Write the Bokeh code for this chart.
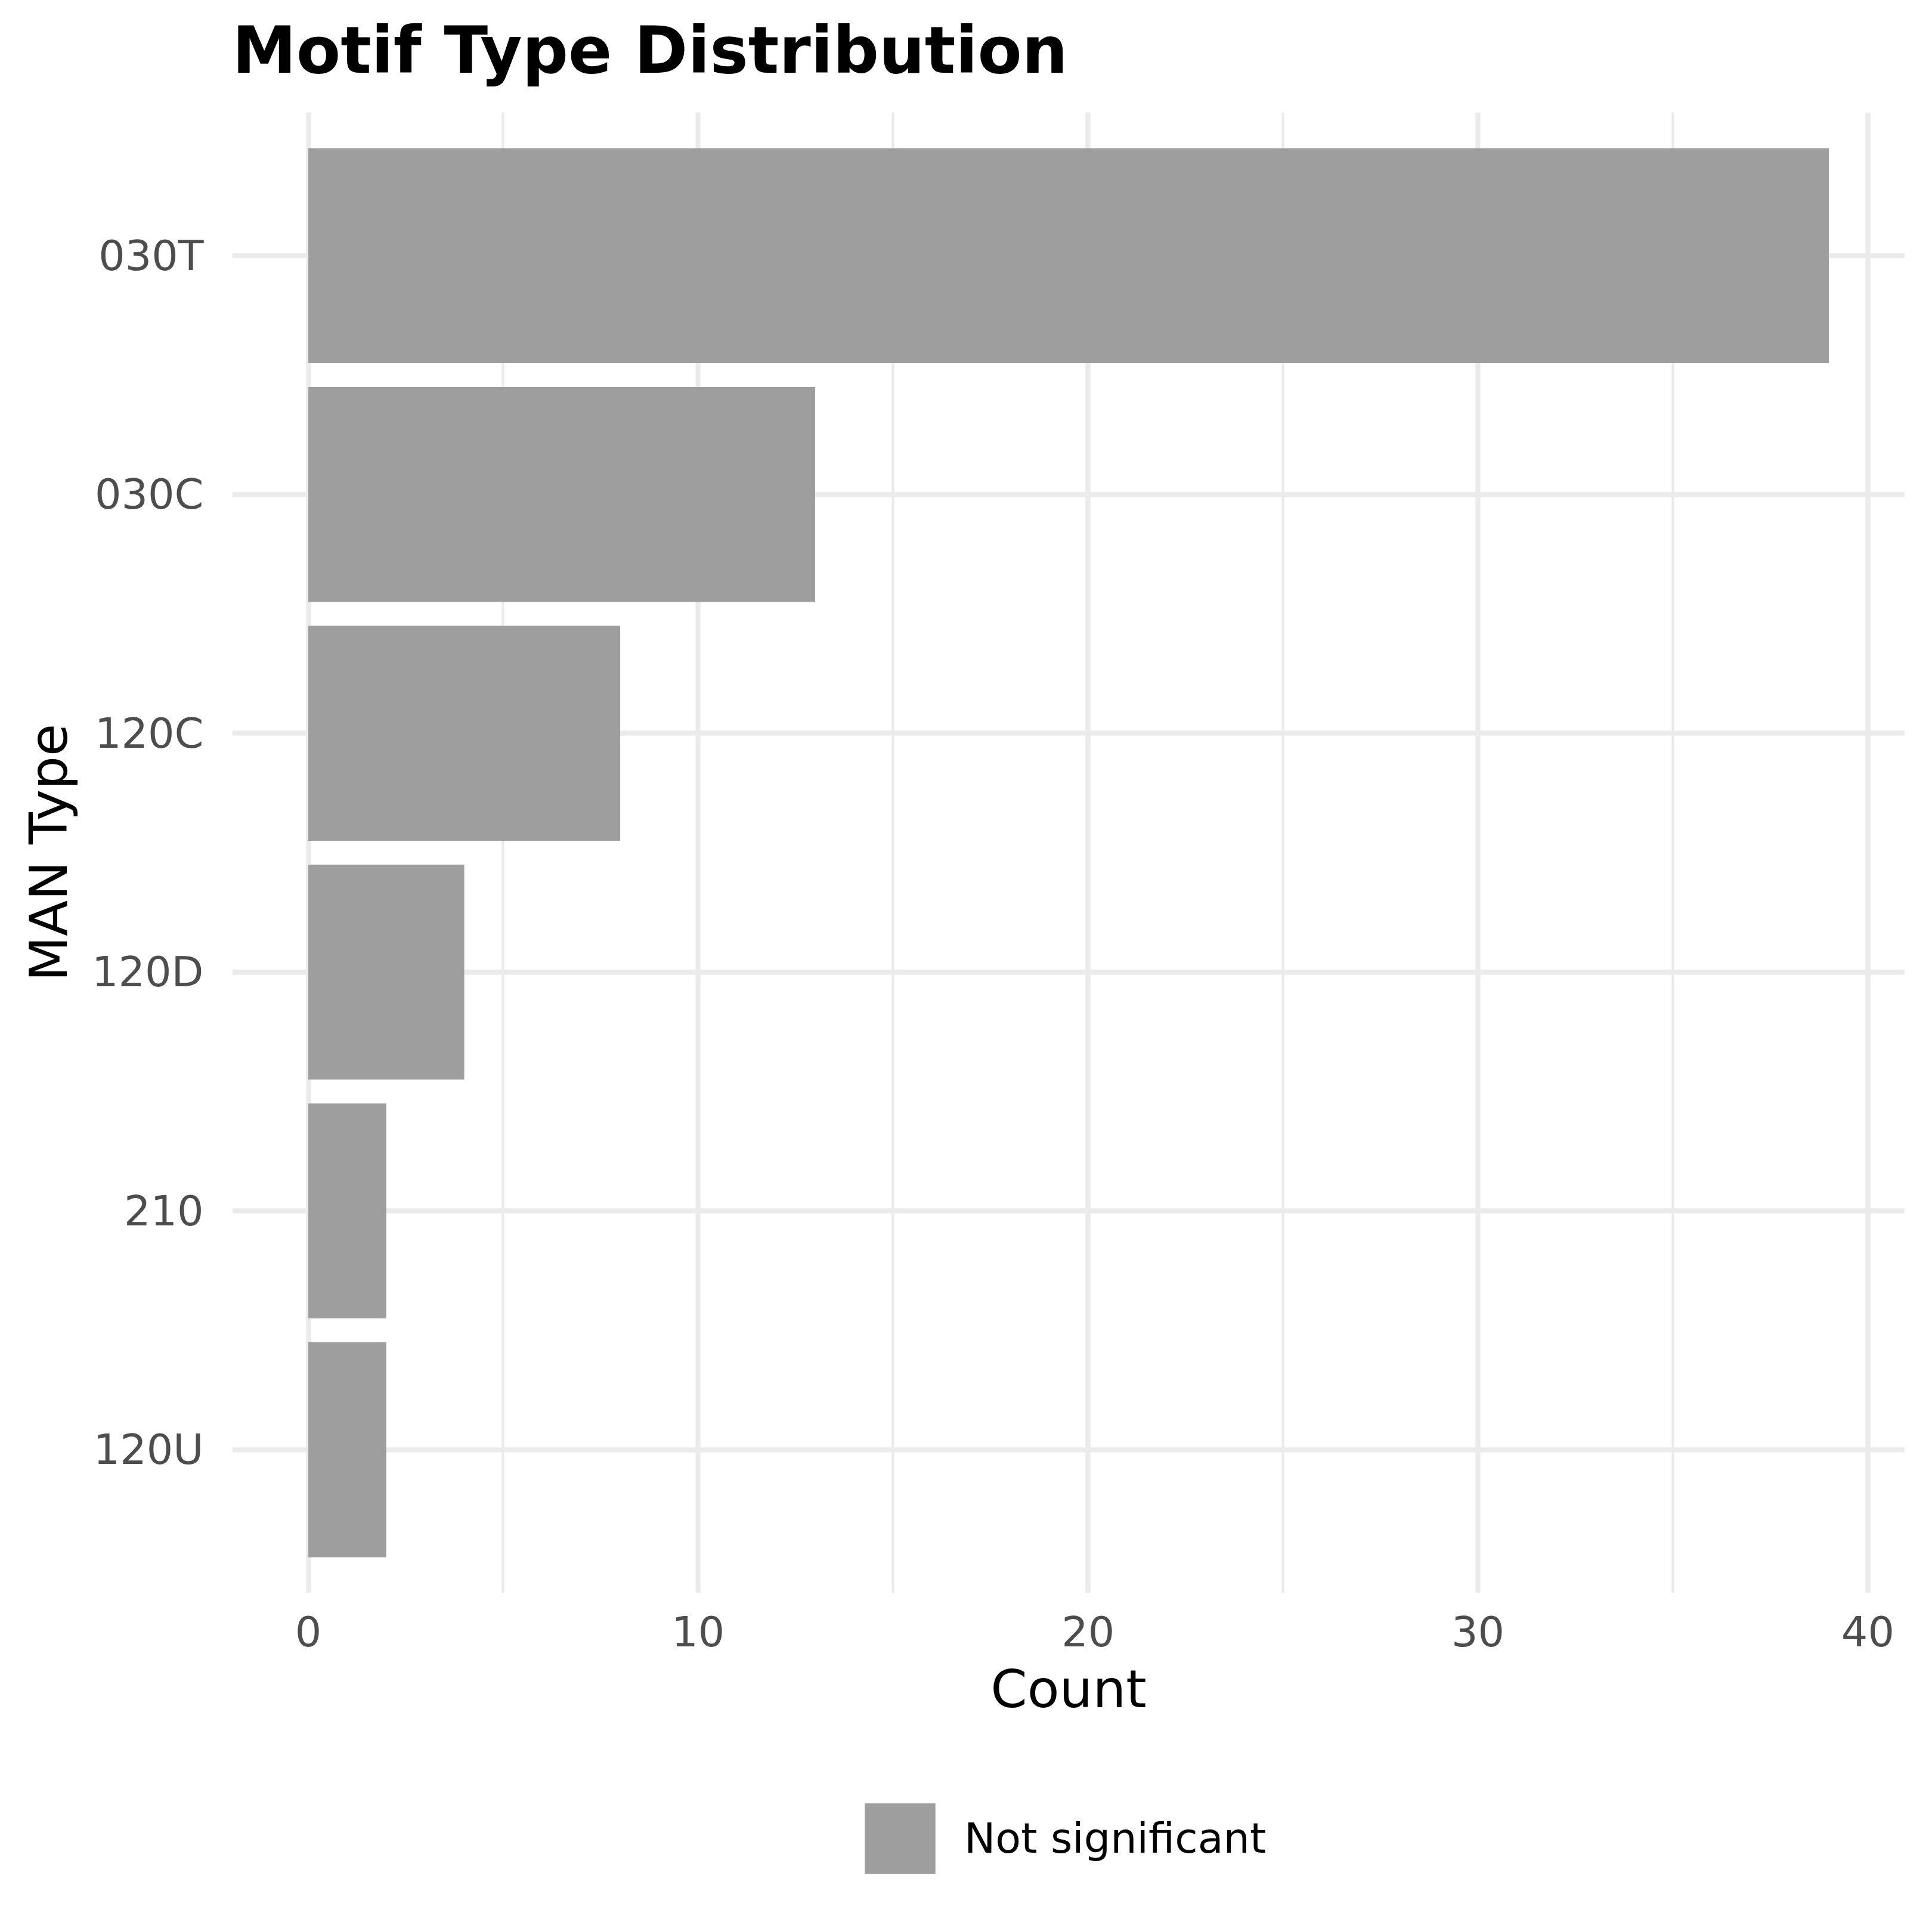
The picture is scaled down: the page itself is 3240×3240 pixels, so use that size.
from bokeh.plotting import figure
from bokeh.layouts import column
from bokeh.models import Range1d, FixedTicker, Legend, LegendItem, ColumnDataSource, Title
from bokeh.embed import file_html
from bokeh.resources import INLINE

# Data (top to bottom in the chart)
categories = ["030T", "030C", "120C", "120D", "210", "120U"]
counts = [39, 13, 8, 4, 2, 2]
x_ticks = [0, 10, 20, 30, 40]
x_minor_ticks = [5, 15, 25, 35]
legend_label = "Not significant"
title_text = "Motif Type Distribution"

n = len(categories)
# y positions: first category on top
ypos = [n - i for i in range(n)]
source = ColumnDataSource(dict(y=ypos, count=counts, cat=categories))

FONT = "DejaVu Sans"
BAR = "#9E9E9E"
GRID = "#EBEBEB"
W = 3224
H1 = 2931
H2 = 3224 - H1

p = figure(width=W, height=H1, output_backend="svg", toolbar_location=None,
           x_range=Range1d(-1.95, 40.95), y_range=Range1d(0.4, n + 0.6),
           min_border_left=389, min_border_right=30, min_border_top=188,
           min_border_bottom=H1 - 2671)
p.outline_line_color = None
p.background_fill_color = "white"
p.border_fill_color = "white"

r = p.hbar(y="y", right="count", left=0, height=0.9, source=source,
           fill_color=BAR, line_color=None)

# spacer between the title and the plot area, then the title itself
spacer = Title(text=" ", text_font_size="1px", standoff=39)
p.add_layout(spacer, "above")
title = Title(text=title_text, text_font=FONT, text_font_style="bold",
              text_font_size="108px", text_color="black", align="left", standoff=0)
p.add_layout(title, "above")

p.xaxis.ticker = FixedTicker(ticks=x_ticks, minor_ticks=x_minor_ticks)
p.yaxis.ticker = FixedTicker(ticks=ypos)
p.yaxis.major_label_overrides = {y: c for y, c in zip(ypos, categories)}

for ax in (p.xaxis, p.yaxis):
    ax.axis_line_color = None
    ax.major_tick_line_color = None
    ax.minor_tick_line_color = None
    ax.major_label_text_font = FONT
    ax.major_label_text_font_size = "70px"
    ax.major_label_text_color = "#4D4D4D"
    ax.axis_label_text_font = FONT
    ax.axis_label_text_font_size = "88px"
    ax.axis_label_text_font_style = "normal"
    ax.axis_label_text_color = "black"

p.xaxis.axis_label = "Count"
p.yaxis.axis_label = "MAN Type"
p.xaxis.major_label_standoff = 32
p.xaxis.axis_label_standoff = 17
p.yaxis.major_label_standoff = 42
p.yaxis.axis_label_standoff = 18

p.xgrid.grid_line_color = GRID
p.xgrid.grid_line_width = 8.5
p.xgrid.minor_grid_line_color = GRID
p.xgrid.minor_grid_line_width = 4.3
p.ygrid.grid_line_color = GRID
p.ygrid.grid_line_width = 8.5

# Legend strip below the chart (its frame is aligned with the chart's frame)
p2 = figure(width=W, height=H2, output_backend="svg", toolbar_location=None,
            x_axis_location=None, y_axis_location=None,
            x_range=Range1d(1000, 1001), y_range=Range1d(1000, 1001),
            min_border_left=0, min_border_right=0, min_border_top=0, min_border_bottom=0)
p2.outline_line_color = None
p2.grid.visible = False
p2.background_fill_color = "white"
p2.border_fill_color = "white"
# same bars, far outside this strip's view: only used for the legend key
r2 = p2.hbar(y="y", right="count", left=0, height=0.9, source=source,
             fill_color=BAR, line_color=None)

legend = Legend(items=[LegendItem(label=legend_label, renderers=[r2])],
                orientation="horizontal", location=(1046, 67),
                glyph_width=148, glyph_height=148, label_standoff=34,
                label_text_font=FONT, label_text_font_size="70px",
                label_text_color="black", padding=0, margin=0, spacing=0,
                border_line_color=None, background_fill_alpha=0)
p2.add_layout(legend)

layout = column(p, p2, spacing=0)
open("out.html", "w").write(file_html(layout, INLINE))
